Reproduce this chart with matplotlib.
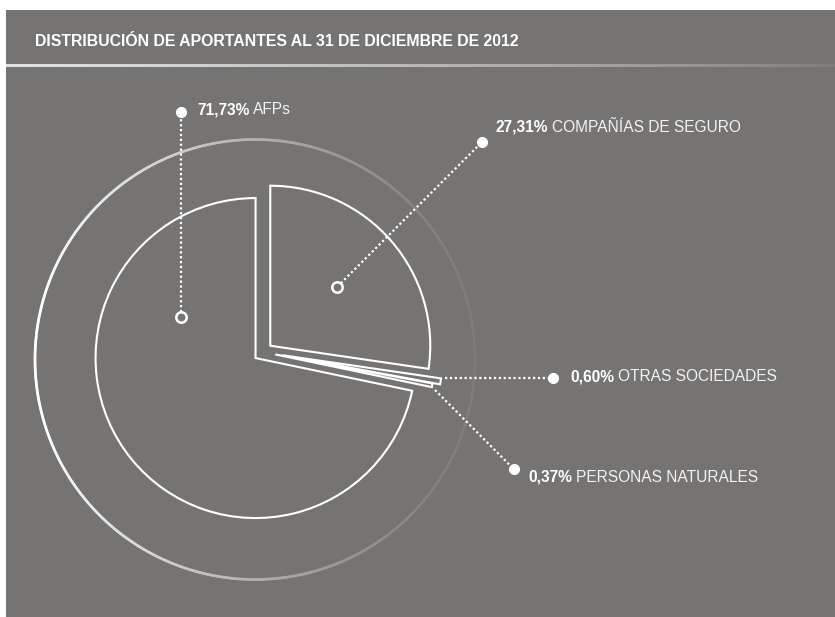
import numpy as np
import matplotlib
matplotlib.use("Agg")
import matplotlib.pyplot as plt
from matplotlib.collections import LineCollection
from matplotlib.patches import Rectangle
from matplotlib.colors import to_rgb

# ---------------- data ----------------
title = "DISTRIBUCIÓN DE APORTANTES AL 31 DE DICIEMBRE DE 2012"
categories = ["COMPAÑÍAS DE SEGURO", "OTRAS SOCIEDADES", "PERSONAS NATURALES", "AFPs"]
shares = [27.31, 0.60, 0.37, 71.73]
pct_labels = ["27,31%", "0,60%", "0,37%", "71,73%"]
explode = [9.6, 20, 12.5, 9.6]

# ---------------- style / layout ----------------
W, H = 835, 617
BG = "#767472"
FONT = ["Liberation Sans", "DejaVu Sans"]

fig = plt.figure(figsize=(W / 100, H / 100), dpi=100, facecolor="white")
ax = fig.add_axes([0, 0, 1, 1])
ax.set_xlim(0, W)
ax.set_ylim(0, H)
ax.axis("off")


def Y(y):
    return H - y


# gray panel
ax.add_patch(Rectangle((6, Y(617)), W - 6, 617 - 10, facecolor=BG, edgecolor="none", zorder=0))

# title
ax.text(35, Y(42), title, fontsize=11.4, fontweight="bold", color="white",
        family=FONT, ha="left", va="center", zorder=5)

# separator line with fading gradient (image)
bg = np.array(to_rgb(BG))
light = np.array([0.88, 0.88, 0.88])
t = np.linspace(0, 1, 400)
wgt = (1 - t) ** 0.8 * 0.95 + 0.08
grad = (light[None, :] * wgt[:, None] + bg[None, :] * (1 - wgt[:, None]))[None, :, :]
ax.imshow(grad, extent=(6, W, Y(67.3), Y(64.7)), aspect="auto", zorder=2,
          interpolation="bilinear")

# big decorative ring with gradient (solid colours, no alpha stacking)
cx, cy, R = 255, Y(359.5), 220
th = np.linspace(0, 2 * np.pi, 721)
px = cx + R * np.cos(th)
py = cy + R * np.sin(th)
rsegs = [[(px[i], py[i]), (px[i + 1], py[i + 1])] for i in range(len(th) - 1)]
tm = (th[:-1] + th[1:]) / 2
ra = 0.06 + 0.94 * ((1 - np.cos(tm)) / 2) ** 1.3
white = np.array([1.0, 1.0, 1.0])
rcols = [tuple(white * a + bg * (1 - a)) for a in ra]
ax.add_collection(LineCollection(rsegs, colors=rcols, linewidths=1.9, zorder=2,
                                 capstyle="round"))

# pie
wedges, _ = ax.pie(shares, explode=explode, startangle=90, counterclock=False,
                   radius=160, center=(263, Y(352)), frame=True,
                   wedgeprops=dict(facecolor=BG, edgecolor="white", linewidth=1.5))
for w in wedges:
    w.set_zorder(3)
ax.set_xlim(0, W)
ax.set_ylim(0, H)
ax.set_aspect("auto")
ax.axis("off")

# annotations
ann = {
    "AFPs": dict(p0=(181, 317), p1=(181, 112), t=(197, 110), hollow=True),
    "COMPAÑÍAS DE SEGURO": dict(p0=(337.3, 286.7), p1=(482.3, 141.7), t=(496, 127), hollow=True),
    "OTRAS SOCIEDADES": dict(p0=(445, 377.7), p1=(552.7, 377.7), t=(570, 376.5), hollow=False),
    "PERSONAS NATURALES": dict(p0=(435, 390), p1=(514, 469.3), t=(528, 477), hollow=False),
}

fig.canvas.draw()
renderer = fig.canvas.get_renderer()
for cat, pct in zip(categories, pct_labels):
    a = ann[cat]
    (x0, y0), (x1, y1) = a["p0"], a["p1"]
    ax.plot([x0, x1], [Y(y0), Y(y1)], color="white", lw=1.6,
            linestyle=(0, (1, 1.2)), zorder=4, solid_capstyle="butt")
    ax.plot([x1], [Y(y1)], "o", ms=7, color="white", mec="white", zorder=6)
    if a["hollow"]:
        ax.plot([x0], [Y(y0)], "o", ms=7.5, mfc=BG, mec="white", mew=1.8, zorder=6)
    tx, ty = a["t"]
    t1 = ax.text(tx, Y(ty), pct, fontsize=11.2, fontweight="bold", color="white",
                 family=FONT, ha="left", va="center", zorder=6)
    bb = t1.get_window_extent(renderer)
    ax.text(bb.x1 + 4, Y(ty), cat, fontsize=11.2, color="#f2f2f2",
            family=FONT, ha="left", va="center", zorder=6)

ax.set_xlim(0, W)
ax.set_ylim(0, H)
fig.savefig("out.png", dpi=100, facecolor="white")
